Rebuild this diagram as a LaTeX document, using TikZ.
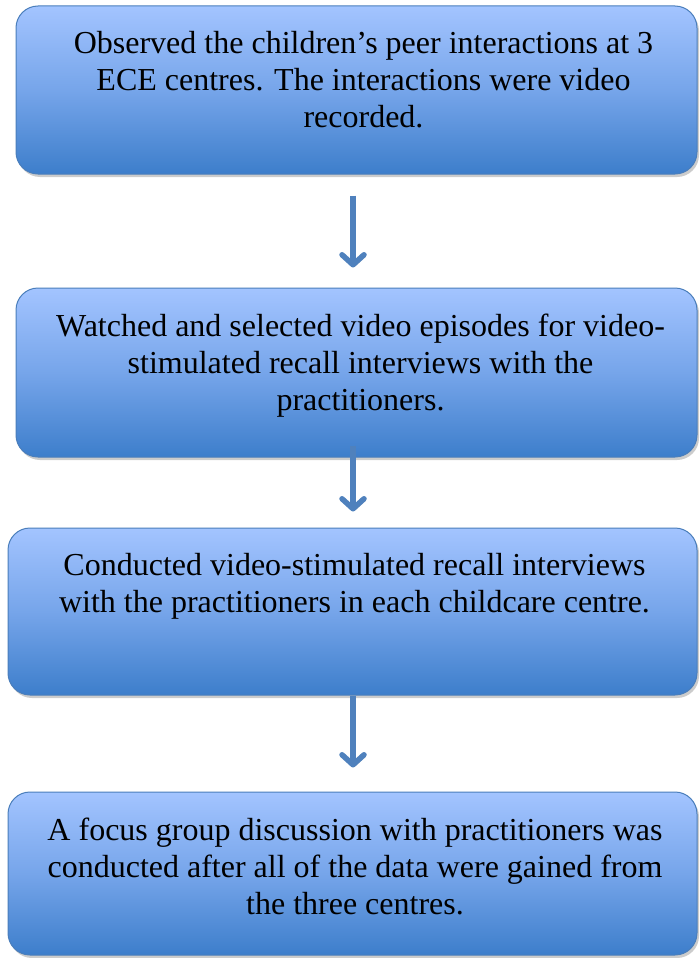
\documentclass[tikz,border=0pt]{standalone}
\usepackage{fontspec}
\setmainfont{Liberation Serif}
\usepackage{xcolor}
\usetikzlibrary{arrows.meta, positioning, shadows}

\definecolor{boxtop}{HTML}{A3C4FF}
\definecolor{boxmid}{HTML}{76A5EA}
\definecolor{boxbot}{HTML}{3D7ECB}
\definecolor{boxline}{HTML}{4A7EBB}
\definecolor{arrowblue}{HTML}{4F81BD}

\tikzset{
  stepbox/.style={draw=boxline, line width=1pt, rounded corners=22pt,
    top color=boxtop, bottom color=boxbot, middle color=boxmid,
    drop shadow={shadow xshift=2pt, shadow yshift=-3pt, fill=black!20, opacity=1}},
  steptext/.style={align=center, inner sep=0pt, font=\fontsize{32}{37}\selectfont},
  flowarrow/.style={draw=arrowblue, line width=5.5pt,
    -{Straight Barb[length=10pt,width=22pt,line join=round,line cap=round]},
    preaction={draw=black!22, transform canvas={xshift=1.5pt,yshift=-2pt}}}
}

\begin{document}
\begin{tikzpicture}[x=1pt,y=1pt]
\useasboundingbox (0,0) rectangle (699,-958);

% Observation
\node[stepbox, minimum width=681pt, minimum height=168pt] (observe) at (356.5,-90) {};
\node[steptext, below=26pt of observe.north, xshift=7pt] (observetext)
  {Observed the children’s peer interactions at 3\\ECE centres. The interactions were video\\recorded.};

% Selecting episodes
\node[stepbox, minimum width=681pt, minimum height=169pt] (select) at (356.5,-372.5) {};
\node[steptext, below=26pt of select.north, xshift=4pt] (selecttext)
  {Watched and selected video episodes for video-\\stimulated recall interviews with the\\practitioners.};

% Recall interviews
\node[stepbox, minimum width=689pt, minimum height=167pt] (recall) at (352.5,-611.5) {};
\node[steptext, below=26pt of recall.north, xshift=2pt] (recalltext)
  {Conducted video-stimulated recall interviews\\with the practitioners in each childcare centre.};

% Focus group
\node[stepbox, minimum width=689pt, minimum height=163pt] (focus) at (352.5,-873.5) {};
\node[steptext, below=26pt of focus.north, xshift=2.5pt] (focustext)
  {A focus group discussion with practitioners was\\conducted after all of the data were gained from\\the three centres.};

% Arrows
\draw[flowarrow] ([xshift=-3.5pt,yshift=-21pt]observe.south) -- ([xshift=-3.5pt,yshift=20pt]select.north);
\draw[flowarrow] ([xshift=-3.5pt,yshift=12pt]select.south) -- ([xshift=0.5pt,yshift=16pt]recall.north);
\draw[flowarrow] ([xshift=0.5pt]recall.south) -- ([xshift=0.5pt,yshift=24pt]focus.north);
\end{tikzpicture}
\end{document}
